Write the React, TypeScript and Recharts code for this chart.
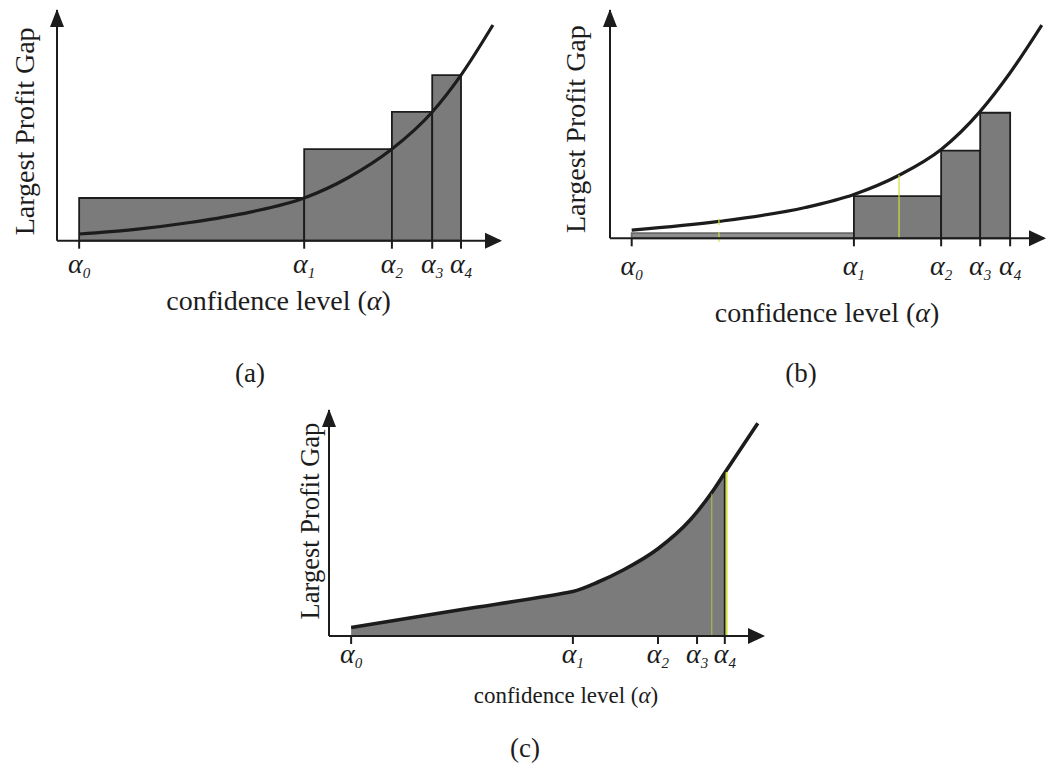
import React from 'react';
import {
  ComposedChart,
  Line,
  Area,
  XAxis,
  YAxis,
  ReferenceArea,
  ReferenceLine,
  ReferenceDot,
} from 'recharts';

// confidence axis runs 0..100, profit gap axis runs 0..100 (arrow tips at 100)
const alphaSubs = ['0', '1', '2', '3', '4'];

// (a) upper step approximation
const alphaA = [5.0, 55.8, 75.6, 84.7, 91.2];
const barsA = [18.5, 39.7, 55.8, 71.8];
const curveXA = [5.0, 17.2, 30.0, 43.6, 55.8, 65.8, 75.6, 84.7, 91.2, 98.4];
const curveYA = [2.9, 4.8, 7.9, 12.4, 18.5, 27.4, 39.7, 55.8, 71.8, 93.5];

// (b) lower step approximation
const alphaB = [5.0, 56.2, 76.3, 85.3, 92.2];
const barsB = [2.3, 18.5, 38.4, 55.0];
const curveXB = [5.0, 25.1, 45.0, 56.2, 66.6, 76.3, 85.3, 92.2, 99.5];
const curveYB = [3.6, 7.4, 13.5, 19.2, 27.6, 38.9, 55.6, 72.5, 93.4];
const markXB = [25.1, 25.1, 66.6];
const markLoB = [5.8, -1.5, 0];
const markHiB = [8.6, 2.6, 27.7];

// (c) area under the piecewise curve
const alphaC = [5.1, 56.2, 75.8, 84.8, 91.2];
const curveXC = [5.1, 30.6, 54.0, 56.2, 62.0, 67.8, 75.8, 83.2, 88.6, 91.2, 98.8];
const curveYC = [3.8, 11.7, 18.9, 19.7, 23.9, 29.2, 38.6, 51.3, 64.6, 72.2, 94.1];
const markXC = [88.2, 91.6];
const markHiC = [63.0, 72.5];

const FONT = '"Liberation Serif", "Times New Roman", serif';
const INK = '#1c1c1c';
const GRAY = '#7b7b7b';
const YELLOW = '#cfe03c';

const AlphaTick = (props: any) => {
  const { x, y, payload, ticks, baseline } = props;
  const i = ticks.indexOf(payload.value);
  return (
    <text x={x} y={y + baseline} textAnchor="middle" fontFamily={FONT} fontSize={28} fill={INK}>
      <tspan fontStyle="italic">α</tspan>
      <tspan fontStyle="italic" fontSize={15} dy={5}>{alphaSubs[i]}</tspan>
    </text>
  );
};

const UpArrow = (props: any) => {
  const { cx, cy } = props;
  return <polygon points={`${cx},${cy - 1} ${cx - 7},${cy + 17} ${cx + 7},${cy + 17}`} fill={INK} />;
};

const RightArrow = (props: any) => {
  const { cx, cy } = props;
  return <polygon points={`${cx + 2},${cy} ${cx - 15},${cy - 8} ${cx - 15},${cy + 8}`} fill={INK} />;
};

type PanelProps = {
  left: number;
  top: number;
  width: number;
  height: number;
  margin: { top: number; right: number; left: number; bottom: number };
  axisHeight: number;
  alphas: number[];
  curveX: number[];
  curveY: number[];
  bars?: number[];
  barFills?: string[];
  barStrokes?: string[];
  fillTo?: number;
  tickBaseline: number;
  xTitleBaseline: number;
  xTitleShift?: number;
  xTitleSize: number;
  yTitleOffset: number;
  yTitleShift: number;
  yTitleSize: number;
  curveWidth: number;
  children?: React.ReactNode;
};

const Panel = (p: PanelProps) => {
  const data = p.curveX.map((x, i) => ({
    x,
    y: p.curveY[i],
    fill: p.fillTo !== undefined && x <= p.fillTo + 1e-6 ? p.curveY[i] : null,
  }));

  return (
    <div style={{ position: 'absolute', left: p.left, top: p.top }}>
      <ComposedChart width={p.width} height={p.height} data={data} margin={p.margin}>
        <XAxis
          type="number"
          dataKey="x"
          domain={[0, 100]}
          ticks={p.alphas}
          interval={0}
          allowDataOverflow
          height={p.axisHeight}
          tickSize={8}
          axisLine={{ stroke: INK, strokeWidth: 2 }}
          tickLine={{ stroke: INK, strokeWidth: 2 }}
          tick={(t: any) => <AlphaTick {...t} ticks={p.alphas} baseline={p.tickBaseline} />}
          label={{
            content: (l: any) => {
              const vb = l.viewBox;
              return (
                <text
                  x={vb.x + vb.width / 2 + (p.xTitleShift || 0)}
                  y={vb.y + p.xTitleBaseline}
                  textAnchor="middle"
                  fontFamily={FONT}
                  fontSize={p.xTitleSize}
                  fill={INK}
                >
                  confidence level (<tspan fontStyle="italic">α</tspan>)
                </text>
              );
            },
          }}
        />
        <YAxis
          type="number"
          domain={[0, 100]}
          width={1}
          allowDataOverflow
          tick={false}
          tickLine={false}
          axisLine={{ stroke: INK, strokeWidth: 2 }}
          label={{
            content: (l: any) => {
              const vb = l.viewBox;
              const cx = vb.x + vb.width - p.yTitleOffset;
              const cy = vb.y + vb.height / 2 + p.yTitleShift;
              return (
                <text
                  x={cx}
                  y={cy}
                  transform={`rotate(-90 ${cx} ${cy})`}
                  textAnchor="middle"
                  dominantBaseline="central"
                  fontFamily={FONT}
                  fontSize={p.yTitleSize}
                  fill={INK}
                >
                  Largest Profit Gap
                </text>
              );
            },
          }}
        />

        {p.bars &&
          p.bars.map((h, i) => (
            <ReferenceArea
              key={i}
              x1={p.alphas[i]}
              x2={p.alphas[i + 1]}
              y1={0}
              y2={h}
              fill={p.barFills ? p.barFills[i] : GRAY}
              fillOpacity={1}
              stroke={p.barStrokes ? p.barStrokes[i] : INK}
              strokeWidth={1.8}
              ifOverflow="visible"
            />
          ))}

        {p.fillTo !== undefined && (
          <Area
            type="monotone"
            dataKey="fill"
            stroke="none"
            fill={GRAY}
            fillOpacity={1}
            isAnimationActive={false}
            connectNulls={false}
          />
        )}

        <Line
          type="monotone"
          dataKey="y"
          stroke={INK}
          strokeWidth={p.curveWidth}
          dot={false}
          isAnimationActive={false}
        />

        {p.children}

        <ReferenceDot x={0} y={100} r={1} ifOverflow="visible" shape={UpArrow} />
        <ReferenceDot x={100} y={0} r={1} ifOverflow="visible" shape={RightArrow} />
      </ComposedChart>
    </div>
  );
};

export default function App() {
  return (
    <div
      style={{
        position: 'absolute',
        left: 0,
        top: 0,
        width: 1046,
        height: 768,
        background: '#fff',
        overflow: 'hidden',
      }}
    >
      <Panel
        left={0}
        top={0}
        width={520}
        height={330}
        margin={{ top: 10, right: 20, left: 56, bottom: 9.3 }}
        axisHeight={80}
        alphas={alphaA}
        curveX={curveXA}
        curveY={curveYA}
        bars={barsA}
        tickBaseline={22.3}
        xTitleBaseline={69.3}
        xTitleSize={28}
        yTitleOffset={32}
        yTitleShift={6}
        yTitleSize={28}
        curveWidth={3.2}
      />

      <Panel
        left={540}
        top={0}
        width={506}
        height={340}
        margin={{ top: 10, right: 2, left: 69, bottom: 11.7 }}
        axisHeight={90}
        alphas={alphaB}
        curveX={curveXB}
        curveY={curveYB}
        bars={barsB}
        barFills={['#8e8e8e', GRAY, GRAY, GRAY]}
        barStrokes={['#6a6a6a', INK, INK, INK]}
        tickBaseline={26.7}
        xTitleBaseline={83.7}
        xTitleSize={28}
        yTitleOffset={34}
        yTitleShift={5}
        yTitleSize={28}
        curveWidth={3.2}
      >
        {markXB.map((x, i) => (
          <ReferenceLine
            key={i}
            segment={[
              { x, y: markLoB[i] },
              { x, y: markHiB[i] },
            ]}
            stroke={YELLOW}
            strokeWidth={1.5}
            strokeOpacity={0.8}
            ifOverflow="visible"
          />
        ))}
      </Panel>

      <Panel
        left={280}
        top={390}
        width={500}
        height={330}
        margin={{ top: 20, right: 17, left: 48, bottom: 14 }}
        axisHeight={70}
        alphas={alphaC}
        curveX={curveXC}
        curveY={curveYC}
        fillTo={alphaC[4]}
        tickBaseline={17}
        xTitleBaseline={67}
        xTitleShift={20}
        xTitleSize={23}
        yTitleOffset={19}
        yTitleShift={-2}
        yTitleSize={26.5}
        curveWidth={3.6}
      >
        <ReferenceLine
          segment={[
            { x: alphaC[4], y: 0 },
            { x: alphaC[4], y: curveYC[9] },
          ]}
          stroke={INK}
          strokeWidth={2}
          ifOverflow="visible"
        />
        {markXC.map((x, i) => (
          <ReferenceLine
            key={i}
            segment={[
              { x, y: 0 },
              { x, y: markHiC[i] },
            ]}
            stroke={YELLOW}
            strokeWidth={i === 0 ? 1 : 2}
            strokeOpacity={i === 0 ? 0.7 : 1}
            ifOverflow="visible"
          />
        ))}
      </Panel>

      <svg
        width={1046}
        height={768}
        style={{ position: 'absolute', left: 0, top: 0, pointerEvents: 'none' }}
      >
        <text x={250} y={382} textAnchor="middle" fontFamily={FONT} fontSize={27} fill={INK}>(a)</text>
        <text x={801} y={382} textAnchor="middle" fontFamily={FONT} fontSize={27} fill={INK}>(b)</text>
        <text x={525} y={757} textAnchor="middle" fontFamily={FONT} fontSize={27} fill={INK}>(c)</text>
      </svg>
    </div>
  );
}
